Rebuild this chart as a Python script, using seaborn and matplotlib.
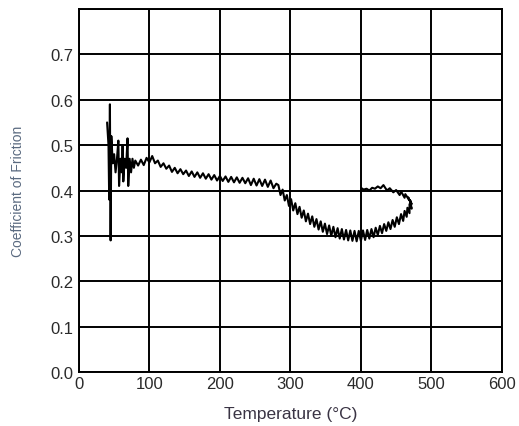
import pandas as pd
import matplotlib as mpl
mpl.use("Agg")
import matplotlib.pyplot as plt
import seaborn as sns

# Friction trace (temperature in degC, coefficient of friction)
# run-in spikes
temp_runin = [40, 42, 43, 44, 45, 46, 48, 50, 52, 54, 56, 57, 59, 61, 62, 63, 65, 67,
              69, 70, 72, 74, 76, 78]
cof_runin = [0.55, 0.50, 0.38, 0.59, 0.29, 0.52, 0.46, 0.48, 0.44, 0.47, 0.51, 0.41,
             0.47, 0.44, 0.50, 0.42, 0.47, 0.45, 0.515, 0.41, 0.47, 0.44, 0.47, 0.45]

# slow decline
temp_plateau = [80, 84, 88, 92, 96, 100, 104, 108, 112, 116, 120, 124, 128, 132, 136,
                140, 144, 148, 152, 156, 160, 164, 168, 172, 176, 180, 184, 188, 192,
                196, 200, 204, 208, 212, 216, 220, 224, 228, 232, 236, 240, 244, 248,
                252, 256, 260, 264, 268, 272, 276, 280]
cof_plateau = [0.466, 0.455, 0.468, 0.456, 0.472, 0.462, 0.476, 0.460, 0.466, 0.452,
               0.460, 0.448, 0.455, 0.441, 0.450, 0.438, 0.447, 0.436, 0.444, 0.432,
               0.442, 0.430, 0.440, 0.428, 0.438, 0.426, 0.436, 0.424, 0.434, 0.422,
               0.432, 0.421, 0.431, 0.419, 0.430, 0.418, 0.429, 0.417, 0.428, 0.416,
               0.427, 0.412, 0.426, 0.411, 0.425, 0.410, 0.424, 0.408, 0.422, 0.405,
               0.415]

# drop into the trough
temp_drop = [283, 286, 289, 292, 295, 298, 301, 304, 307, 310, 313, 316, 319, 322, 325,
             328, 331, 334, 337, 340, 343, 346, 349, 352, 355, 358, 361, 364, 367, 370,
             373, 376, 379, 382, 385, 388, 391, 394, 397, 400, 403, 406, 409, 412, 415,
             418]
cof_drop = [0.412, 0.390, 0.402, 0.378, 0.390, 0.366, 0.381, 0.356, 0.372, 0.348,
            0.364, 0.340, 0.356, 0.332, 0.349, 0.326, 0.343, 0.320, 0.337, 0.314,
            0.332, 0.309, 0.327, 0.304, 0.323, 0.300, 0.320, 0.297, 0.317, 0.294,
            0.315, 0.292, 0.313, 0.290, 0.312, 0.289, 0.311, 0.288, 0.311, 0.289,
            0.312, 0.291, 0.313, 0.294, 0.315, 0.297]

# rise and hook back
temp_hook = [421, 424, 427, 430, 433, 436, 439, 442, 445, 448, 451, 454, 457, 460, 462,
             465, 466, 469, 469, 472, 470, 472, 467, 469, 463, 462, 457, 455, 450, 446,
             441, 437, 432, 428, 424, 420, 416, 412, 408, 404, 401]
cof_hook = [0.318, 0.302, 0.322, 0.306, 0.326, 0.311, 0.330, 0.315, 0.335, 0.320,
            0.341, 0.326, 0.348, 0.333, 0.355, 0.342, 0.362, 0.350, 0.370, 0.360,
            0.378, 0.370, 0.385, 0.378, 0.392, 0.384, 0.398, 0.390, 0.401, 0.396,
            0.405, 0.400, 0.412, 0.405, 0.409, 0.404, 0.406, 0.400, 0.404, 0.402,
            0.405]

x_ticks = [0, 100, 200, 300, 400, 500, 600]
y_ticks = [0.0, 0.1, 0.2, 0.3, 0.4, 0.5, 0.6, 0.7, 0.8]
y_ticklabels = ["0.0", "0.1", "0.2", "0.3", "0.4", "0.5", "0.6", "0.7", ""]

temps = temp_runin + temp_plateau + temp_drop + temp_hook
cofs = cof_runin + cof_plateau + cof_drop + cof_hook
df = pd.DataFrame({"temp": temps, "cof": cofs})

sns.set_style("white")
plt.rcParams["font.family"] = ["Liberation Sans", "DejaVu Sans"]

fig = plt.figure(figsize=(5.19, 4.27), dpi=100)
ax = fig.add_axes([0.152, 0.1265, 0.815, 0.85])

sns.lineplot(data=df, x="temp", y="cof", sort=False, estimator=None,
             color="black", linewidth=1.5, ax=ax)

ax.set_xlim(0, 600)
ax.set_ylim(0, 0.8)
ax.set_xticks(x_ticks)
ax.set_yticks(y_ticks)
ax.set_yticklabels(y_ticklabels)
ax.grid(True, color="black", linewidth=1.4)
ax.set_axisbelow(True)
for s in ax.spines.values():
    s.set_color("black")
    s.set_linewidth(1.4)
ax.tick_params(axis="both", length=0, labelsize=12, labelcolor="#2a2a2a")
ax.tick_params(axis="x", pad=3)
ax.tick_params(axis="y", pad=4)

ax.set_xlabel("Temperature (°C)", fontsize=12.5, color="#3a3444", labelpad=11)
ax.set_ylabel("Coefficient of Friction", fontsize=10, color="#5a6a80", labelpad=18,
              family=["Liberation Sans Narrow", "Liberation Sans", "DejaVu Sans"])

fig.savefig("out.png", dpi=100)
